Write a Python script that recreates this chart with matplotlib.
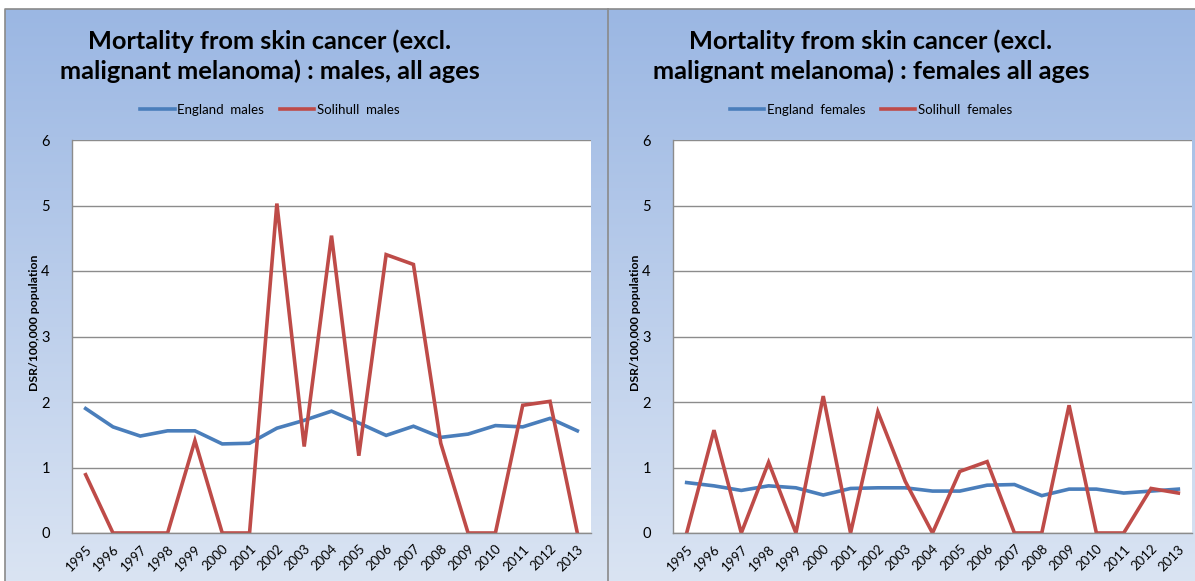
import matplotlib
matplotlib.use("Agg")
import matplotlib.pyplot as plt
import numpy as np

years = [str(y) for y in range(1995, 2014)]

england_males = [1.90, 1.62, 1.48, 1.56, 1.56, 1.36, 1.37, 1.60, 1.72, 1.86,
                 1.68, 1.49, 1.63, 1.46, 1.51, 1.64, 1.62, 1.75, 1.56]
solihull_males = [0.89, 0, 0, 0, 1.41, 0, 0, 5.03, 1.32, 4.54,
                  1.18, 4.25, 4.10, 1.37, 0, 0, 1.95, 2.01, 0]

england_females = [0.77, 0.72, 0.65, 0.72, 0.69, 0.58, 0.68, 0.69, 0.69, 0.64,
                   0.64, 0.73, 0.74, 0.57, 0.67, 0.67, 0.61, 0.64, 0.67]
solihull_females = [0, 1.57, 0, 1.08, 0, 2.09, 0, 1.85, 0.79, 0,
                    0.94, 1.09, 0, 0, 1.95, 0, 0, 0.68, 0.61]

titles = ["Mortality from skin cancer (excl.\nmalignant melanoma) : males, all ages",
          "Mortality from skin cancer (excl.\nmalignant melanoma) : females all ages"]
legend_labels = [["England  males", "Solihull  males"],
                 ["England  females", "Solihull  females"]]
ylabel = "DSR/100,000 population"

BLUE = "#4a7ebb"
RED = "#be4b48"
GRID = "#8c8c8c"
W, H = 1195, 581

plt.rcParams["font.family"] = ["Lato", "DejaVu Sans"]

fig = plt.figure(figsize=(W / 100, H / 100), dpi=100)

# background panels with vertical gradient
bg = fig.add_axes([0, 0, 1, 1], zorder=-10)
bg.set_xlim(0, W)
bg.set_ylim(H, 0)
bg.axis("off")
top = np.array([155, 183, 227]) / 255
bot = np.array([218, 228, 243]) / 255
t = np.linspace(0, 1, 256)[:, None]
grad = (top[None, :] * (1 - t) + bot[None, :] * t)[:, None, :]
bg.imshow(grad, extent=[5, W, H, 9], aspect="auto")
bg.plot([5, 5, W], [H, 9, 9], color="#8a8a8a", lw=1.2)
bg.plot([608, 608], [9, H], color="#8a8a8a", lw=1.2)

panels = [
    (72, 270, england_males, solihull_males),
    (673, 871, england_females, solihull_females),
]

x = np.arange(len(years))
for i, (left_px, title_px, eng, sol) in enumerate(panels):
    ax = fig.add_axes([left_px / W, 1 - 533 / H, 519 / W, 393 / H])
    ax.set_facecolor("white")
    l1, = ax.plot(x, eng, color=BLUE, lw=2.6, solid_joinstyle="miter")
    l2, = ax.plot(x, sol, color=RED, lw=2.6, solid_joinstyle="miter")
    ax.set_xlim(-0.5, len(years) - 0.5)
    ax.set_ylim(0, 6)
    ax.set_yticks(range(0, 7))
    ax.yaxis.grid(True, color=GRID, lw=1)
    ax.set_axisbelow(True)
    for s in ["top", "right"]:
        ax.spines[s].set_visible(False)
    for s in ["left", "bottom"]:
        ax.spines[s].set_color(GRID)
        ax.spines[s].set_linewidth(1)
    ax.set_xticks(x)
    ax.set_xticklabels(years, rotation=45, ha="right", rotation_mode="anchor")
    ax.tick_params(axis="x", length=0, pad=7, labelsize=9.5)
    ax.tick_params(axis="y", length=0, pad=16, labelsize=10.5)
    ax.set_ylabel(ylabel, fontsize=8.8, fontweight="bold")
    ax.yaxis.set_label_coords(-0.061, 0.535)

    fig.text(title_px / W, 1 - 56 / H, titles[i], ha="center", va="center",
             fontsize=18.3, fontweight="bold", linespacing=1.3)
    fig.legend([l1, l2], legend_labels[i], loc="center",
               bbox_to_anchor=(title_px / W, 1 - 110 / H), ncol=2,
               frameon=False, fontsize=9.5, handlelength=2.6,
               columnspacing=1.2, handletextpad=0.2)

fig.savefig("out.png", dpi=100)
